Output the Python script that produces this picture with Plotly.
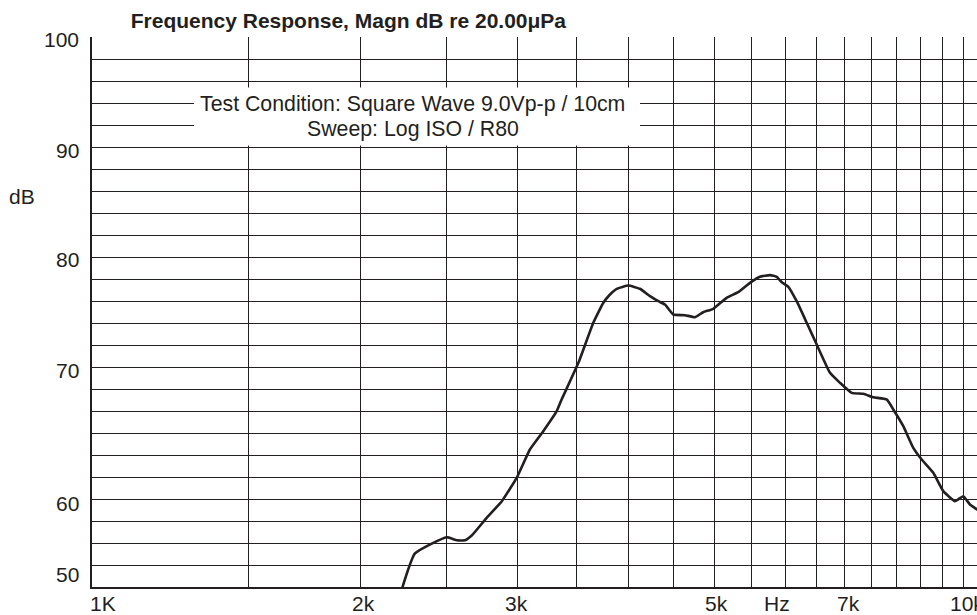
import numpy as np
import plotly.graph_objects as go

# ---- data ----
freq_hz = [2210, 2304, 2500, 2567, 2622, 2668, 2773, 2884, 3001, 3101, 3210, 3323, 3366,
           3515, 3653, 3749, 3814, 3881, 3999, 4121, 4230, 4321, 4396, 4492, 4629, 4751,
           4853, 4981, 5156, 5313, 5476, 5619, 5767, 5868, 5945, 6047, 6179, 6341, 6507,
           6735, 6911, 7123, 7340, 7532, 7797, 7931, 8139, 8352, 8535, 8795, 9025, 9303,
           9504, 9670, 9847, 10020]
magn_db = [48.9, 53.05, 54.53, 54.25, 54.25, 54.68, 56.29, 57.8, 60.02, 62.5, 64.16, 65.98, 67.05,
           70.38, 74.02, 75.84, 76.59, 77.11, 77.41, 77.11, 76.44, 75.98, 75.68, 74.77, 74.71, 74.53,
           74.98, 75.29, 76.29, 76.8, 77.65, 78.2, 78.35, 78.2, 77.71, 77.29, 75.98, 74.02, 72.05,
           69.47, 68.56, 67.65, 67.56, 67.25, 67.05, 66.14, 64.62, 62.65, 61.59, 60.38, 58.71, 57.8,
           58.25, 57.5, 57.05, 56.6]

x_grid_hz = list(range(1000, 10001, 500))
x_label_pos_hz = [1028, 2015, 2995, 5020, 5870, 7056, 9600]
x_label_text = ["1K", "2k", "3k", "5k", "Hz", "7k", "10k"]

y_label_pos = [99.8, 89.7, 79.75, 69.7, 57.6, 51.14]
y_label_text = ["100", "90", "80", "70", "60", "50"]

title_text = "<b>Frequency Response, Magn dB re 20.00\u03bcPa</b>"
cond_lines = ["Test Condition: Square Wave 9.0Vp-p / 10cm", "Sweep: Log ISO / R80"]
cond_y = [93.95, 91.68]

INK = "#231f20"
FONT = "Liberation Sans, Arial, Helvetica, sans-serif"
FS = 21
FS_COND = 21.3

fig = go.Figure()
fig.add_trace(go.Scatter(x=freq_hz, y=magn_db, mode="lines",
                         line=dict(color=INK, width=2.6, shape="spline", smoothing=0.4),
                         hoverinfo="skip", showlegend=False))

# white box behind condition text (covers the grid)
fig.add_shape(type="rect", xref="paper", yref="y",
              x0=0.1153, x1=0.6192, y0=90.14, y1=95.4,
              fillcolor="white", line=dict(width=0), layer="above")

annotations = []
for t, yv in zip(cond_lines, cond_y):
    annotations.append(dict(text=t, xref="paper", x=0.3627, yref="y", y=yv,
                            xanchor="center", yanchor="middle", showarrow=False,
                            font=dict(size=FS_COND, color=INK, family=FONT)))
for t, xv in zip(x_label_text, x_label_pos_hz):
    annotations.append(dict(text=t, xref="x", x=np.log10(xv), yref="paper", y=-0.030,
                            xanchor="center", yanchor="middle", showarrow=False,
                            font=dict(size=FS, color=INK, family=FONT)))
for t, yv in zip(y_label_text, y_label_pos):
    annotations.append(dict(text=t, xref="paper", x=0, xshift=-11, yref="y", y=yv,
                            xanchor="right", yanchor="middle", showarrow=False,
                            font=dict(size=FS, color=INK, family=FONT)))
annotations.append(dict(text="dB", xref="paper", x=0, xshift=-70, yref="y", y=85.5,
                        xanchor="center", yanchor="middle", showarrow=False,
                        font=dict(size=FS, color=INK, family=FONT)))

fig.update_layout(
    width=977, height=615,
    margin=dict(l=92, r=0, t=37, b=28),
    paper_bgcolor="white", plot_bgcolor="white",
    title=dict(text=title_text, xref="container", x=0.1338, xanchor="left",
               yref="container", y=0.966, yanchor="middle",
               font=dict(size=FS, color=INK, family=FONT)),
    annotations=annotations,
    font=dict(family=FONT, color=INK),
)
fig.update_xaxes(type="log", range=[3, 3.9933], tickmode="array", tickvals=x_grid_hz,
                 showticklabels=False, ticks="", showgrid=True, gridcolor=INK, gridwidth=1.3,
                 zeroline=False, showline=True, linecolor=INK, linewidth=1.5, automargin=False)
fig.update_yaxes(range=[50, 100], tick0=50, dtick=2, showticklabels=False, ticks="",
                 showgrid=True, gridcolor=INK, gridwidth=1.3, zeroline=False,
                 showline=True, linecolor=INK, linewidth=1.5, automargin=False)

fig.write_html("out.html", config={"displayModeBar": False},
               post_script="document.body.style.margin='0px';document.body.style.overflow='hidden';")
